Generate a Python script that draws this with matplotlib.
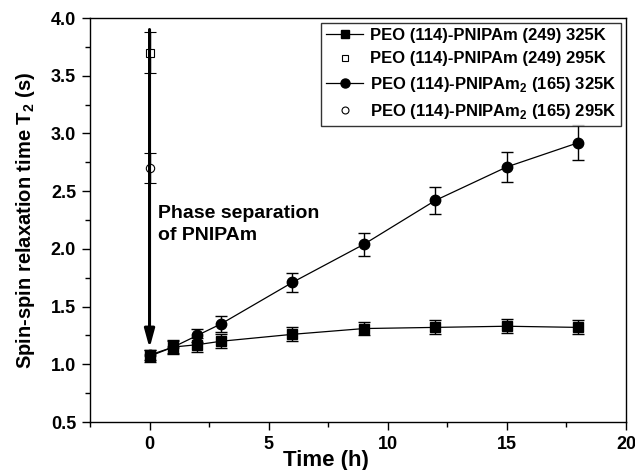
import matplotlib.pyplot as plt
from matplotlib.lines import Line2D
from matplotlib.ticker import MultipleLocator

plt.rcParams['font.family'] = ['Liberation Sans', 'DejaVu Sans']
plt.rcParams['font.weight'] = 'bold'
plt.rcParams['mathtext.fontset'] = 'custom'
plt.rcParams['mathtext.rm'] = 'Liberation Sans:bold'
plt.rcParams['mathtext.bf'] = 'Liberation Sans:bold'

# data
time_h = [0, 1, 2, 3, 6, 9, 12, 15, 18]
t2_249_325 = [1.07, 1.15, 1.17, 1.20, 1.26, 1.31, 1.32, 1.33, 1.32]
err_249_325 = [0.05, 0.06, 0.06, 0.06, 0.06, 0.06, 0.06, 0.06, 0.06]
t2_165_325 = [1.08, 1.15, 1.25, 1.35, 1.71, 2.04, 2.42, 2.71, 2.92]
err_165_325 = [0.04, 0.05, 0.06, 0.07, 0.08, 0.10, 0.12, 0.13, 0.15]
time_295 = [0]
t2_249_295 = [3.70]
err_249_295 = [0.18]
t2_165_295 = [2.70]
err_165_295 = [0.13]

labels = ["PEO (114)-PNIPAm (249) 325K",
          "PEO (114)-PNIPAm (249) 295K",
          "PEO (114)-PNIPAm$_\\mathbf{2}$ (165) 325K",
          "PEO (114)-PNIPAm$_\\mathbf{2}$ (165) 295K"]

fig = plt.figure(figsize=(6.35, 4.7), dpi=100)
ax = fig.add_axes([0.1417, 0.102, 0.8441, 0.8597])

eb = dict(ecolor="black", elinewidth=1.0, capsize=4.5, capthick=1.0)
ax.errorbar(time_h, t2_249_325, yerr=err_249_325, fmt="-s", color="black",
            ms=6.5, lw=0.9, **eb)
ax.errorbar(time_295, t2_249_295, yerr=err_249_295, fmt="s", color="black",
            mfc="white", ms=5.5, mew=0.8, **eb)
ax.errorbar(time_h, t2_165_325, yerr=err_165_325, fmt="-o", color="black",
            ms=7.5, lw=0.9, **eb)
ax.errorbar(time_295, t2_165_295, yerr=err_165_295, fmt="o", color="black",
            mfc="white", ms=6, mew=0.8, **eb)

# thick arrow: phase separation
ax.annotate("", xy=(0, 1.14), xytext=(0, 3.9),
            arrowprops=dict(arrowstyle="-|>,head_width=0.3,head_length=1.1",
                            color="black", lw=2.2, shrinkA=0, shrinkB=0))
ax.text(0.35, 2.38, "Phase separation\nof PNIPAm", fontsize=14,
        fontweight="bold", va="top", ha="left", linespacing=1.35)

ax.set_xlim(-2.5, 20)
ax.set_ylim(0.5, 4.0)
ax.xaxis.set_major_locator(MultipleLocator(5))
ax.xaxis.set_minor_locator(MultipleLocator(2.5))
ax.yaxis.set_major_locator(MultipleLocator(0.5))
ax.yaxis.set_minor_locator(MultipleLocator(0.25))
ax.tick_params(which="both", direction="out", top=False, right=False,
               width=1.0)
ax.tick_params(which="major", length=6, labelsize=13, pad=4)
ax.tick_params(which="minor", length=3.5)
for lab in ax.get_xticklabels() + ax.get_yticklabels():
    lab.set_fontweight("bold")
for s in ax.spines.values():
    s.set_linewidth(1.0)

ax.set_xlabel("Time (h)", fontsize=16, fontweight="bold")
ax.xaxis.set_label_coords(0.44, -0.068)
ax.set_ylabel("Spin-spin relaxation time T$_\\mathbf{2}$ (s)", fontsize=14.5,
              fontweight="bold", labelpad=10)

# legend without error bars, as in the original
handles = [
    Line2D([], [], color="black", lw=0.9, marker="s", ms=6),
    Line2D([], [], color="black", lw=0, marker="s", ms=5, mfc="white", mew=0.8),
    Line2D([], [], color="black", lw=0.9, marker="o", ms=6.5),
    Line2D([], [], color="black", lw=0, marker="o", ms=5, mfc="white", mew=0.8),
]
leg = ax.legend(handles, labels, loc="upper right", frameon=True,
                fancybox=False, edgecolor="black", handlelength=2.2,
                borderpad=0.3, labelspacing=0.5, handletextpad=0.4,
                borderaxespad=0.3, prop={"weight": "bold", "size": 12})
leg.get_frame().set_linewidth(1.0)

fig.savefig("out.png", dpi=100)
